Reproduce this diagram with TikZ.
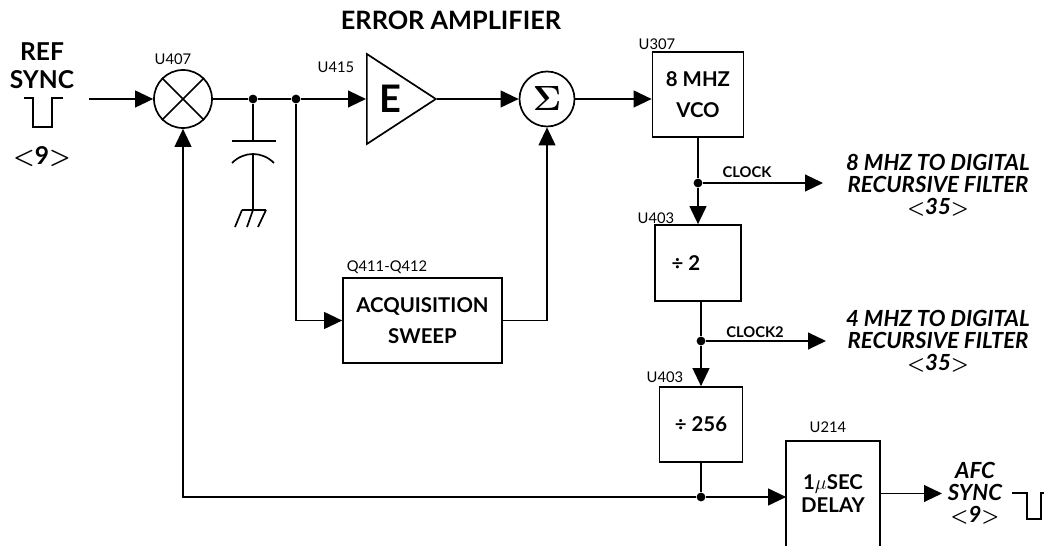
\documentclass[tikz,border=0pt]{standalone}
\usepackage{fontspec}
\setmainfont{Lato}
\usepackage{tikz}
\usetikzlibrary{arrows.meta,positioning,calc,shapes.geometric}

\begin{document}
\begin{tikzpicture}[
    line width=1.2pt,
    box/.style={draw, inner sep=0pt, align=center, font=\fontsize{14.5}{22}\selectfont\bfseries},
    circ/.style={draw, circle, inner sep=0pt, minimum size=1.4cm},
    dot/.style={circle, fill=black, inner sep=0pt, minimum size=0.22cm},
    arrow/.style={-{Triangle[length=4.5mm,width=4.2mm]}},
    partlabel/.style={font=\fontsize{10.5}{12}\selectfont},
    siglabel/.style={font=\fontsize{10.5}{12}\selectfont\bfseries},
    outlabel/.style={align=center, inner sep=0pt, font=\fontsize{15.8}{15.5}\selectfont\bfseries\itshape\boldmath},
    inlabel/.style={align=center, inner sep=0pt, font=\fontsize{17.5}{20}\selectfont\bfseries\boldmath}
]
\useasboundingbox (0,0) rectangle (26.1,13.625);

% Input
\node[inlabel] (ref) at (1.05,11.975) {REF\\SYNC};
\node[inlabel] (refnum) at (1.05,9.7) {$<$9$>$};
\coordinate (refin) at (2.225,11.15);
\draw (0.6,11.175) -- (0.825,11.175) -- (0.825,10.45) -- (1.3,10.45) -- (1.3,11.175) -- (1.575,11.175);

% Main path
\node[circ, minimum size=1.45cm] (mixer) at (4.575,11.15) {};
\draw (mixer.north west) -- (mixer.south east);
\draw (mixer.north east) -- (mixer.south west);
\node[dot] (capdot) at (6.325,11.15) {};
\node[dot] (acqdot) at (7.4,11.15) {};
\node[draw, isosceles triangle, isosceles triangle apex angle=66, isosceles triangle stretches,
      minimum width=2.25cm, minimum height=1.725cm, inner sep=0pt, anchor=west] (amp) at (9.15,11.15) {};
\node[font=\fontsize{27}{27}\selectfont\bfseries] (ampE) at (9.75,11.15) {E};
\node[circ, minimum size=1.375cm, font=\fontsize{26}{26}\selectfont\boldmath] (sum) at (13.675,11.15) {$\Sigma$};
\node[box, minimum width=2.275cm, minimum height=2.125cm] (vco) at (17.45,11.2625) {8 MHZ\\VCO};
\node[box, minimum width=3.975cm, minimum height=2.125cm] (acq) at (10.5625,5.6125) {ACQUISITION\\SWEEP};

\draw[arrow] (refin) -- (mixer);
\draw (mixer) -- (capdot);
\draw (capdot) -- (acqdot);
\draw[arrow] (acqdot) -- (amp.west);
\draw[arrow] (amp.east) -- (sum);
\draw[arrow] (sum) -- (sum -| vco.west);
\draw[arrow] (acqdot) |- (acq.west);
\draw[arrow] (acq.east) -| (sum);

% Capacitor to ground
\coordinate (capa) at (6.325,10.1);
\coordinate (capb) at (6.325,9.775);
\coordinate (gnd) at (6.325,8.375);
\draw (capdot) -- (capa);
\draw (5.8,10.1) -- (6.9,10.1);
\draw (5.8,9.55) .. controls (6.1,9.85) and (6.55,9.85) .. (6.85,9.55);
\draw (capb) -- (gnd);
\draw (6.05,8.375) -- (6.65,8.375);
\draw (6.05,8.375) -- (5.875,7.95);
\draw (6.325,8.375) -- (6.175,7.95);
\draw (6.65,8.375) -- (6.45,7.95);

% Divider chain
\node[dot] (clockdot) at (17.45,9.05) {};
\node[box, minimum width=2.15cm, minimum height=1.9cm] (div2) at (17.45,7.05) {÷ 2\hspace{6mm}};
\node[dot] (clocktwodot) at (17.525,5.1) {};
\node[box, minimum width=2.075cm, minimum height=1.875cm] (div256) at (17.525,3.0125) {÷ 256};
\node[dot] (delaydot) at (17.525,1.2) {};
\node[inner sep=0pt, minimum width=2.3cm, minimum height=2.575cm, align=center,
      font=\fontsize{14.5}{17}\selectfont\bfseries] (delay) at (20.825,1.2875) {1$\mu$SEC\\DELAY};
\draw (delay.south west) |- (delay.north east) -- (delay.south east);

\coordinate (clockend) at (20.575,9.05);
\coordinate (clocktwoend) at (20.65,5.1);
\draw (vco.south) -- (clockdot);
\draw[arrow] (clockdot) -- (div2.north);
\draw[arrow] (clockdot) -- (clockend);
\draw (clocktwodot |- div2.south) -- (clocktwodot);
\draw[arrow] (clocktwodot) -- (div256.north);
\draw[arrow] (clocktwodot) -- (clocktwoend);
\draw (div256.south) -- (delaydot);
\draw[arrow] (delaydot) -- (delaydot -| delay.west);
\draw[arrow] (delaydot) -| (mixer.south);

% Outputs
\node[outlabel] (out8) at (23.45,9.0) {8 MHZ TO DIGITAL\\RECURSIVE FILTER\\$<$35$>$};
\node[outlabel] (out4) at (23.45,5.1) {4 MHZ TO DIGITAL\\RECURSIVE FILTER\\$<$35$>$};
\node[outlabel] (afc) at (24.375,1.2875) {AFC\\SYNC\\$<$9$>$};
\coordinate (afcend) at (23.55,1.2875);
\draw[arrow] (delay.east) -- (afcend);
\draw (25.3,1.3) -- (25.675,1.3) -- (25.675,0.65) -- (26.025,0.65) -- (26.025,1.3) -- (26.1,1.3);

% Labels
\node[font=\fontsize{18}{20}\selectfont\bfseries] (title) at (11.275,13.125) {ERROR AMPLIFIER};
\node[partlabel] (u407) at (4.325,12.15) {U407};
\node[partlabel] (u415) at (8.4,11.95) {U415};
\node[partlabel] (u307) at (16.425,12.525) {U307};
\node[partlabel] (u403a) at (16.4,8.175) {U403};
\node[partlabel] (u403b) at (16.625,4.2) {U403};
\node[partlabel] (q411) at (9.675,6.95) {Q411-Q412};
\node[partlabel] (u214) at (20.7,2.95) {U214};
\node[siglabel] (clock) at (18.675,9.325) {CLOCK};
\node[siglabel] (clocktwo) at (18.875,5.325) {CLOCK2};

\end{tikzpicture}
\end{document}
